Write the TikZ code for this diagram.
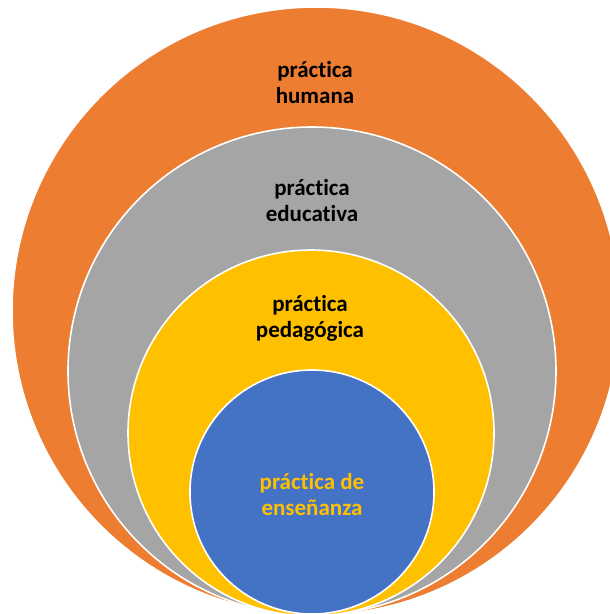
\documentclass[tikz,border=0pt]{standalone}
\usepackage{fontspec}
\setmainfont{Carlito}[Ligatures=NoCommon]
\definecolor{ringorange}{HTML}{ED7D31}
\definecolor{ringgray}{HTML}{A5A5A5}
\definecolor{ringyellow}{HTML}{FFC000}
\definecolor{ringblue}{HTML}{4472C4}
\tikzset{
  ring/.style={circle, draw=white, line width=1.6pt, inner sep=0pt, outer sep=0pt},
  label/.style={align=center, font=\bfseries\fontsize{23}{26}\selectfont, inner sep=0pt}
}
\begin{document}
\begin{tikzpicture}[x=1pt,y=-1pt]
\useasboundingbox (0,0) rectangle (610,614);
\clip (0,0) rectangle (610,614);
\node[ring, fill=ringorange, minimum size=608pt] (humana) at (316,311) {};
\node[ring, fill=ringgray, minimum size=488pt] (educativa) at (312,371) {};
\node[ring, fill=ringyellow, minimum size=366pt] (pedagogica) at (311,433) {};
\node[ring, fill=ringblue, minimum size=244pt] (ensenanza) at (312,492) {};
\node[label] (thum) at (315,83) {práctica\\humana};
\node[label] (tedu) at (312,201) {práctica\\educativa};
\node[label] (tped) at (310,318) {práctica\\pedagógica};
\node[label, text=ringyellow] (tens) at (312,495) {práctica de\\enseñanza};
\end{tikzpicture}
\end{document}
